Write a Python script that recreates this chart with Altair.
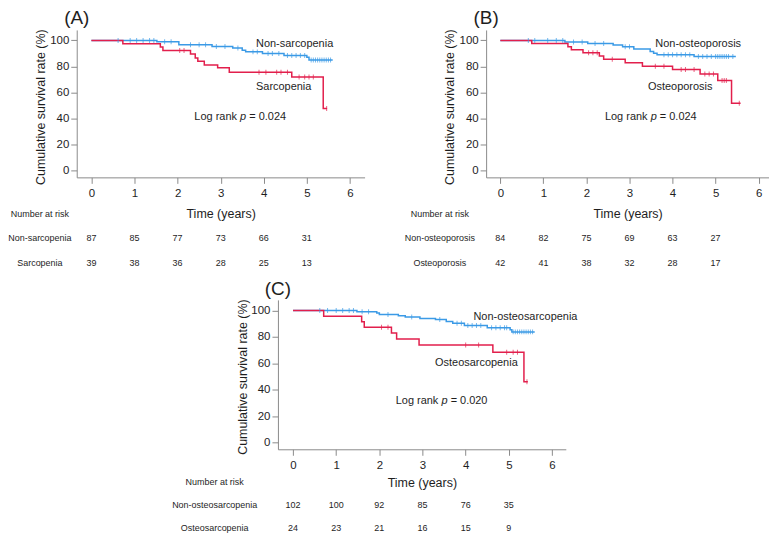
import altair as alt
import pandas as pd

FONT = "Liberation Sans"
BLUE = "#3b9ae6"
RED = "#e21f4c"
AXC = "#8a8a8a"
TXT = "#1e1e1e"

YEARS = [0, 1, 2, 3, 4, 5, 6]
RISK_YEARS = [0, 1, 2, 3, 4, 5]
Y_TICKS = [0, 20, 40, 60, 80, 100]

# ---------------- Panel A : sarcopenia ----------------
a_blue_t = [0, 1.52, 2.03, 2.80, 3.28, 3.50, 3.58, 3.97, 4.47, 5.00, 5.05, 5.60]
a_blue_s = [100, 98.9, 96.6, 95.4, 94.2, 92.4, 91.2, 89.9, 88.5, 87.1, 84.9, 84.9]
a_red_t = [0, 0.73, 1.60, 1.66, 2.30, 2.41, 2.47, 2.62, 2.93, 3.20, 4.65, 5.38, 5.47]
a_red_s = [100, 97.4, 94.9, 92.3, 89.6, 86.5, 84.0, 81.2, 79.1, 75.6, 72.0, 47.8, 47.8]
a_bc_t = [0.62, 0.90, 1.05, 1.20, 1.35, 1.45, 1.70, 1.85, 2.30, 2.50, 2.65, 2.90, 3.10, 3.40,
          3.75, 3.85, 4.10, 4.20, 4.35, 4.55, 4.65, 4.75, 4.85, 4.95,
          5.10, 5.15, 5.20, 5.25, 5.30, 5.35, 5.40, 5.45, 5.50, 5.55]
a_bc_s = [100, 100, 100, 100, 100, 100, 98.9, 98.9, 96.6, 96.6, 96.6, 95.4, 95.4, 94.2,
          91.2, 91.2, 89.9, 89.9, 89.9, 88.5, 88.5, 88.5, 88.5, 88.5,
          84.9, 84.9, 84.9, 84.9, 84.9, 84.9, 84.9, 84.9, 84.9, 84.9]
a_rc_t = [2.05, 2.15, 3.89, 4.05, 4.30, 4.40, 4.55, 4.82, 4.95, 5.05, 5.15, 5.46]
a_rc_s = [92.3, 92.3, 75.6, 75.6, 75.6, 75.6, 75.6, 72.0, 72.0, 72.0, 72.0, 47.8]
a_names = ["Non-sarcopenia", "Sarcopenia"]
a_name_t = [3.82, 3.82]
a_name_s = [97.3, 64.4]
a_p = "= 0.024"
a_p_pos = [2.39, 41.5]
a_risk_1 = [87, 85, 77, 73, 66, 31]
a_risk_2 = [39, 38, 36, 28, 25, 13]

# ---------------- Panel B : osteoporosis ----------------
b_blue_t = [0, 1.50, 2.03, 2.62, 2.84, 3.10, 3.48, 3.56, 3.64, 4.50, 5.47]
b_blue_s = [100, 98.8, 97.6, 96.4, 95.2, 93.4, 91.4, 90.2, 89.0, 87.6, 87.6]
b_red_t = [0, 0.73, 1.57, 1.65, 1.92, 2.30, 2.40, 2.90, 3.30, 4.00, 4.64, 5.05, 5.37, 5.58]
b_red_s = [100, 97.6, 95.2, 92.9, 90.5, 88.0, 85.5, 82.8, 80.2, 77.6, 74.2, 69.2, 51.9, 51.9]
b_bc_t = [0.65, 0.80, 1.10, 1.30, 1.45, 1.70, 1.90, 2.20, 2.40, 2.90, 3.00,
          3.80, 3.90, 4.00, 4.10, 4.20, 4.30, 4.40,
          4.60, 4.70, 4.80, 4.90, 5.00, 5.05, 5.10, 5.15, 5.20, 5.25, 5.30, 5.40]
b_bc_s = [100, 100, 100, 100, 100, 98.8, 98.8, 97.6, 97.6, 95.2, 95.2,
          89.0, 89.0, 89.0, 89.0, 89.0, 89.0, 89.0,
          87.6, 87.6, 87.6, 87.6, 87.6, 87.6, 87.6, 87.6, 87.6, 87.6, 87.6, 87.6]
b_rc_t = [2.05, 2.15, 2.25, 2.60, 3.60, 3.80, 4.20, 4.30, 4.50, 4.75, 4.85, 4.95, 5.15, 5.20, 5.25, 5.55]
b_rc_s = [90.5, 90.5, 90.5, 85.5, 80.2, 80.2, 77.6, 77.6, 77.6, 74.2, 74.2, 74.2, 69.2, 69.2, 69.2, 51.9]
b_names = ["Non-osteoporosis", "Osteoporosis"]
b_name_t = [3.60, 3.43]
b_name_s = [97.3, 64.1]
b_p = "= 0.024"
b_p_pos = [2.43, 41.5]
b_risk_1 = [84, 82, 75, 69, 63, 27]
b_risk_2 = [42, 41, 38, 32, 28, 17]

# ---------------- Panel C : osteosarcopenia ----------------
c_blue_t = [0, 1.48, 1.94, 2.00, 2.44, 2.60, 2.94, 3.30, 3.55, 3.70, 3.97, 4.50, 5.03, 5.07, 5.60]
c_blue_s = [100, 99.0, 98.0, 97.0, 96.0, 95.0, 94.0, 93.2, 91.6, 90.3, 88.6, 87.0, 85.4, 83.8, 83.8]
c_red_t = [0, 0.71, 1.59, 1.65, 2.28, 2.40, 2.92, 4.63, 5.35, 5.44]
c_red_s = [100, 95.7, 91.5, 87.3, 83.0, 78.5, 73.9, 68.4, 46.1, 46.1]
c_bc_t = [0.62, 0.80, 1.00, 1.15, 1.30, 1.40, 1.60, 1.75, 2.20, 2.75, 3.40, 3.80, 3.90,
          4.05, 4.15, 4.25, 4.35, 4.60, 4.70, 4.80, 4.90, 4.95,
          5.10, 5.15, 5.20, 5.25, 5.30, 5.35, 5.40, 5.45, 5.50, 5.55]
c_bc_s = [100, 100, 100, 100, 100, 100, 99.0, 99.0, 97.0, 95.0, 93.2, 90.3, 90.3,
          88.6, 88.6, 88.6, 88.6, 87.0, 87.0, 87.0, 87.0, 87.0,
          83.8, 83.8, 83.8, 83.8, 83.8, 83.8, 83.8, 83.8, 83.8, 83.8]
c_rc_t = [2.05, 2.20, 4.00, 4.30, 4.95, 5.10, 5.20, 5.42]
c_rc_s = [87.3, 87.3, 73.9, 73.9, 68.4, 68.4, 68.4, 46.1]
c_names = ["Non-osteosarcopenia", "Osteosarcopenia"]
c_name_t = [4.18, 3.29]
c_name_s = [94.9, 60.0]
c_p = "= 0.020"
c_p_pos = [2.38, 31.6]
c_risk_1 = [102, 100, 92, 85, 76, 35]
c_risk_2 = [24, 23, 21, 16, 15, 9]

# ---------------- layout (pixels inside the single chart) ----------------
TOTAL_W = 695
TOTAL_H = 421


def one_row():
    return pd.DataFrame({"a": [0]})


def panel(tag, xdom, xrange, yrange, x_off, y_off, blue_t, blue_s, red_t, red_s,
          bc_t, bc_s, rc_t, rc_s, names, name_t, name_s, p_text, p_pos,
          risk1, risk2, lab_x, rows_y, time_y, tag_y, ytitle_x, anchor=False):
    xs = alt.Scale(domain=xdom, range=xrange, nice=False, zero=False)
    ys = alt.Scale(domain=[-5, 108], range=yrange, nice=False, zero=False)
    xaxis = alt.Axis(values=YEARS, format="d", title="Time (years)", grid=False,
                     orient="bottom", offset=x_off,
                     tickSize=6, labelPadding=4, domainColor=AXC, tickColor=AXC,
                     domainWidth=1, tickWidth=1, labelFont=FONT, labelFontSize=11.5,
                     labelColor=TXT, titleFont=FONT, titleFontSize=12.5,
                     titleFontWeight="normal", titleColor=TXT, titleY=time_y,
                     titleBaseline="middle", labelFlush=False)
    yaxis = alt.Axis(values=Y_TICKS, format="d", title="Cumulative survival rate (%)",
                     orient="left", offset=y_off,
                     grid=False, tickSize=6, labelPadding=2, domainColor=AXC,
                     tickColor=AXC, domainWidth=1, tickWidth=1, labelFont=FONT,
                     labelFontSize=11.5, labelColor=TXT, titleFont=FONT,
                     titleFontSize=12.5, titleFontWeight="normal", titleColor=TXT,
                     titleAngle=270, titleX=ytitle_x, titleY=yrange[1] + 77,
                     titleBaseline="middle", titleAlign="center", labelFlush=False)
    X = alt.X("t:Q", scale=xs, axis=xaxis)
    Y = alt.Y("s:Q", scale=ys, axis=yaxis)
    color = alt.Color("g:N", scale=alt.Scale(domain=["b", "r"], range=[BLUE, RED]),
                      legend=None)

    curves = pd.DataFrame({
        "t": blue_t + red_t,
        "s": blue_s + red_s,
        "g": ["b"] * len(blue_t) + ["r"] * len(red_t),
        "o": list(range(len(blue_t) + len(red_t))),
    })
    cens = pd.DataFrame({
        "t": bc_t + rc_t,
        "s": bc_s + rc_s,
        "g": ["b"] * len(bc_t) + ["r"] * len(rc_t),
    })
    lines = alt.Chart(curves).mark_line(interpolate="step-after", strokeWidth=1.5).encode(
        x=X, y=Y, color=color, order="o:Q")
    ticks = alt.Chart(cens).mark_tick(orient="vertical", size=5, thickness=1).encode(
        x=X, y=Y, color=color)

    labdf = pd.DataFrame({"t": name_t, "s": name_s, "txt": names})
    labels = alt.Chart(labdf).mark_text(align="left", baseline="middle", font=FONT,
                                         fontSize=11, color=TXT).encode(x=X, y=Y, text="txt:N")
    pdf = pd.DataFrame({"t": [p_pos[0]], "s": [p_pos[1]]})
    lr1 = alt.Chart(pdf).mark_text(text="Log rank", align="left", baseline="middle",
                                    font=FONT, fontSize=11, color=TXT).encode(x=X, y=Y)
    lr2 = alt.Chart(pdf).mark_text(text="p", align="left", baseline="middle", dx=45.9,
                                    font=FONT, fontSize=11, fontStyle="italic",
                                    color=TXT).encode(x=X, y=Y)
    lr3 = alt.Chart(pdf).mark_text(text=p_text, align="left", baseline="middle", dx=55.1,
                                    font=FONT, fontSize=11, color=TXT).encode(x=X, y=Y)

    txt = dict(baseline="middle", font=FONT, fontSize=9, color=TXT)
    r1 = alt.Chart(pd.DataFrame({"t": RISK_YEARS, "n": risk1})).mark_text(
        align="center", **txt).encode(x=X, y=alt.value(rows_y[1]), text="n:Q")
    r2 = alt.Chart(pd.DataFrame({"t": RISK_YEARS, "n": risk2})).mark_text(
        align="center", **txt).encode(x=X, y=alt.value(rows_y[2]), text="n:Q")
    h0 = alt.Chart(one_row()).mark_text(text="Number at risk", align="center", **txt).encode(
        x=alt.value(lab_x), y=alt.value(rows_y[0]))
    h1 = alt.Chart(one_row()).mark_text(text=names[0], align="center", **txt).encode(
        x=alt.value(lab_x), y=alt.value(rows_y[1]))
    h2 = alt.Chart(one_row()).mark_text(text=names[1], align="center", **txt).encode(
        x=alt.value(lab_x), y=alt.value(rows_y[2]))
    tg = alt.Chart(one_row()).mark_text(text=tag, align="center", baseline="alphabetic",
                                         font=FONT, fontSize=19, color=TXT).encode(
        x=alt.value(xrange[0]), y=alt.value(tag_y))

    layers = [lines, ticks, labels, lr1, lr2, lr3, r1, r2, h0, h1, h2, tg]
    if anchor:
        an = alt.Chart(one_row()).mark_rule(opacity=0, strokeWidth=0).encode(
            x=alt.value(-69), x2=alt.value(-69), y=alt.value(-21), y2=alt.value(-21))
        layers.append(an)
    return alt.layer(*layers)


# A: plot x 0..289, y 0..148   B: x 411..695, y 0..148   C: x 202..491, y 271..421
pa = panel("(A)", [-0.34, 6.34], [0, 289], [148, 0], -273, 0,
           a_blue_t, a_blue_s, a_red_t, a_red_s,
           a_bc_t, a_bc_s, a_rc_t, a_rc_s, a_names, a_name_t, a_name_s, a_p, a_p_pos,
           a_risk_1, a_risk_2, -37, [185, 209.3, 234], 36.3, -6, -36, anchor=True)
pb = panel("(B)", [-0.33, 6.24], [411, 695], [148, 0], -273, -411,
           b_blue_t, b_blue_s, b_red_t, b_red_s,
           b_bc_t, b_bc_s, b_rc_t, b_rc_s, b_names, b_name_t, b_name_s, b_p, b_p_pos,
           b_risk_1, b_risk_2, 411 - 46.5, [185, 209.3, 234], 36.3, -6, -37)
pc = panel("(C)", [-0.35, 6.32], [202, 491], [421, 271], 0, -202,
           c_blue_t, c_blue_s, c_red_t, c_red_s,
           c_bc_t, c_bc_s, c_rc_t, c_rc_s, c_names, c_name_t, c_name_s, c_p, c_p_pos,
           c_risk_1, c_risk_2, 202 - 63.5, [454, 477, 500], 33, 266, -36)

chart = alt.layer(pa, pb, pc).resolve_scale(
    x="independent", y="independent"
).resolve_axis(
    x="independent", y="independent"
).properties(
    width=TOTAL_W, height=TOTAL_H, padding=0, background="white"
).configure_view(stroke=None)

chart.save("out.html", embed_options={"renderer": "svg", "actions": False})
